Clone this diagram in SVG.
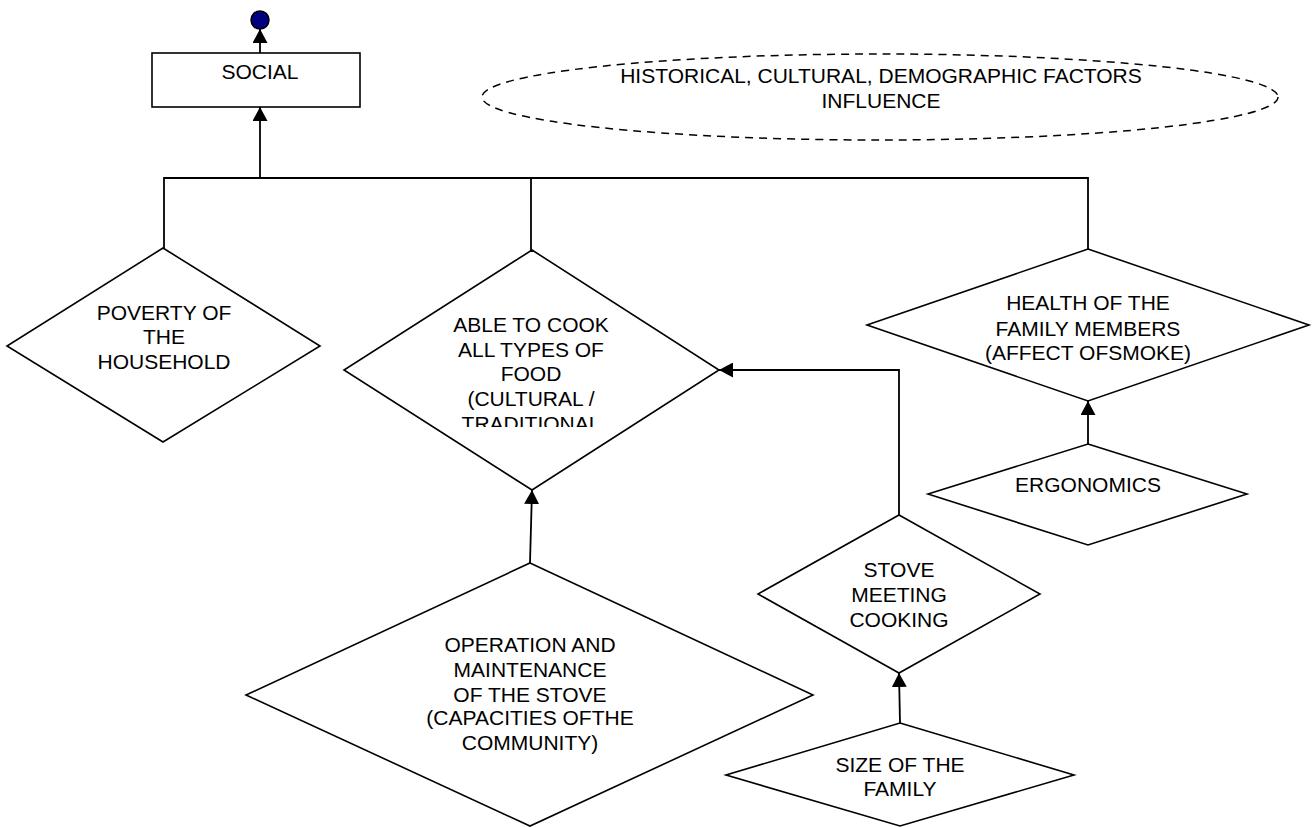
<svg xmlns="http://www.w3.org/2000/svg" width="1313" height="827" viewBox="0 0 1313 827">
<style>
.shape{fill:#fff;stroke:#000;stroke-width:1.6}
.conn{fill:none;stroke:#000;stroke-width:1.8}
text{font-family:"Liberation Sans",Arial,sans-serif;font-size:21px;fill:#000;text-anchor:middle}
</style>
<defs>
<marker id="arr" markerWidth="14" markerHeight="15" refX="14" refY="7.5" orient="auto" markerUnits="userSpaceOnUse">
<path d="M0,0 L14,7.5 L0,15 Z" fill="#000"/>
</marker>
<clipPath id="clipAble"><rect x="340" y="250" width="380" height="177"/></clipPath>
</defs>
<rect width="1313" height="827" fill="#fff"/>
<g id="connectors">
<line class="conn" x1="260" y1="53" x2="260" y2="29" marker-end="url(#arr)"/>
<polyline class="conn" points="164,248 164,178 1088,178 1088,249"/>
<line class="conn" x1="531" y1="178" x2="531" y2="250"/>
<line class="conn" x1="260" y1="178" x2="260" y2="107" marker-end="url(#arr)"/>
<polyline class="conn" points="899,515 899,370 719,370" marker-end="url(#arr)"/>
<line class="conn" x1="530" y1="563" x2="532" y2="490" marker-end="url(#arr)"/>
<line class="conn" x1="900" y1="723" x2="899" y2="673" marker-end="url(#arr)"/>
<line class="conn" x1="1088" y1="444" x2="1088" y2="401" marker-end="url(#arr)"/>
</g>
<g id="dot"><circle cx="260" cy="20" r="9" fill="#000080" stroke="#000" stroke-width="1.5"/></g>
<g id="social">
<rect class="shape" x="152" y="53" width="208" height="54"/>
<text x="260" y="79">SOCIAL</text>
</g>
<g id="influence">
<ellipse cx="880" cy="97" rx="398" ry="43" fill="none" stroke="#000" stroke-width="1.5" stroke-dasharray="8,6"/>
<text x="881" y="83">HISTORICAL, CULTURAL, DEMOGRAPHIC FACTORS</text>
<text x="881" y="108">INFLUENCE</text>
</g>
<g id="poverty">
<polygon class="shape" points="163,248 320,346 163,442 7,346"/>
<text x="164" y="320">POVERTY OF</text>
<text x="164" y="344">THE</text>
<text x="164" y="369">HOUSEHOLD</text>
</g>
<g id="able">
<polygon class="shape" points="532,250 719,370 532,490 344,370"/>
<g clip-path="url(#clipAble)">
<text x="531" y="332">ABLE TO COOK</text>
<text x="531" y="357">ALL TYPES OF</text>
<text x="531" y="381">FOOD</text>
<text x="531" y="406">(CULTURAL /</text>
<text x="531" y="431">TRADITIONAL</text>
</g>
</g>
<g id="health">
<polygon class="shape" points="1088,249 1309,325 1088,401 867,325"/>
<text x="1088" y="310">HEALTH OF THE</text>
<text x="1088" y="336">FAMILY MEMBERS</text>
<text x="1088" y="360">(AFFECT OFSMOKE)</text>
</g>
<g id="ergonomics">
<polygon class="shape" points="1088,444 1247,494 1088,545 928,494"/>
<text x="1088" y="492">ERGONOMICS</text>
</g>
<g id="stove">
<polygon class="shape" points="899,515 1040,594 899,673 758,594"/>
<text x="899" y="577">STOVE</text>
<text x="899" y="602">MEETING</text>
<text x="899" y="627">COOKING</text>
</g>
<g id="operation">
<polygon class="shape" points="530,563 813,695 530,826 246,695"/>
<text x="530" y="652">OPERATION AND</text>
<text x="530" y="677">MAINTENANCE</text>
<text x="530" y="702">OF THE STOVE</text>
<text x="530" y="725">(CAPACITIES OFTHE</text>
<text x="530" y="750">COMMUNITY)</text>
</g>
<g id="size">
<polygon class="shape" points="900,723 1074,775 900,826 726,775"/>
<text x="900" y="772">SIZE OF THE</text>
<text x="900" y="796">FAMILY</text>
</g>
</svg>
